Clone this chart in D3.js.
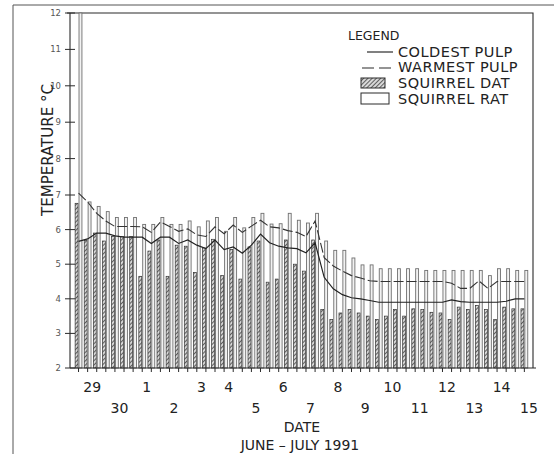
<!DOCTYPE html>
<html>
<head>
<meta charset="utf-8">
<script src="https://cdn.jsdelivr.net/npm/d3@7"></script>
<style>
  body { margin: 0; background: #fff; }
  text { font-family: "DejaVu Sans", "Liberation Sans", sans-serif; fill: #222; }
</style>
</head>
<body>
<svg id="chart" width="554" height="454"></svg>
<script>
// Readings were taken every 8 hours, starting at midnight on 29 June 1991.
const firstReading = new Date(1991, 5, 29, 0, 0);
const readingStepHours = 8;

// Squirrel Dormant Air Temperature (hatched bars), °C
const squirrelDAT = [
  6.76, 5.69, 5.90, 5.67, 5.80, 5.80, 5.80, 4.65, 5.38, 5.70,
  4.65, 5.55, 5.52, 4.76, 5.47, 5.72, 4.67, 5.43, 4.57, 5.50,
  5.67, 4.48, 4.57, 5.70, 5.00, 4.80, 5.70, 3.69, 3.40, 3.59,
  3.69, 3.59, 3.50, 3.40, 3.50, 3.69, 3.50, 3.71, 3.69, 3.61,
  3.59, 3.40, 3.76, 3.69, 3.81, 3.69, 3.40, 3.76, 3.71, 3.71
];

// Squirrel Return Air Temperature (open bars), °C
const squirrelRAT = [
  12.0, 6.80, 6.67, 6.52, 6.35, 6.35, 6.35, 6.15, 6.15, 6.35,
  6.15, 6.15, 6.25, 6.08, 6.25, 6.35, 5.95, 6.35, 6.05, 6.35,
  6.47, 6.16, 6.17, 6.47, 6.27, 6.19, 6.47, 5.67, 5.40, 5.40,
  5.18, 4.98, 4.98, 4.87, 4.87, 4.87, 4.87, 4.87, 4.82, 4.82,
  4.82, 4.82, 4.82, 4.82, 4.82, 4.67, 4.87, 4.87, 4.82, 4.82
];

// Coldest pulp temperature (solid line), °C
const coldestPulp = [
  5.66, 5.73, 5.90, 5.90, 5.82, 5.78, 5.78, 5.78, 5.60, 5.78,
  5.78, 5.60, 5.70, 5.55, 5.45, 5.70, 5.42, 5.50, 5.32, 5.55,
  5.87, 5.62, 5.52, 5.47, 5.45, 5.33, 5.62, 4.62, 4.29, 4.12,
  4.03, 4.00, 3.95, 3.90, 3.90, 3.90, 3.90, 3.90, 3.90, 3.90,
  3.90, 3.97, 3.92, 3.90, 3.90, 3.90, 3.90, 3.93, 4.00, 4.00
];

// Warmest pulp temperature (dashed line), °C
const warmestPulp = [
  7.05, 6.80, 6.47, 6.25, 6.09, 6.09, 6.09, 6.08, 5.92, 6.22,
  6.09, 5.95, 6.02, 5.85, 5.80, 6.08, 5.88, 6.13, 5.92, 6.10,
  6.27, 6.08, 6.05, 5.97, 5.92, 5.80, 6.25, 5.19, 4.95, 4.80,
  4.67, 4.60, 4.52, 4.50, 4.50, 4.50, 4.50, 4.50, 4.50, 4.50,
  4.50, 4.45, 4.30, 4.30, 4.52, 4.30, 4.50, 4.50, 4.50, 4.50
];

// Date tick labels (June - July 1991) and the ones set on the upper row
const dateTicks = [
  "1991-06-29", "1991-06-30", "1991-07-01", "1991-07-02", "1991-07-03",
  "1991-07-04", "1991-07-05", "1991-07-06", "1991-07-07", "1991-07-08",
  "1991-07-09", "1991-07-10", "1991-07-11", "1991-07-12", "1991-07-13",
  "1991-07-14", "1991-07-15"
];
const upperRowDays = [29, 1, 3, 4, 6, 8, 10, 12, 14];

const yTicks = [2, 3, 4, 5, 6, 7, 8, 9, 10, 11, 12];

const legendItems = ["COLDEST PULP", "WARMEST PULP", "SQUIRREL DAT", "SQUIRREL RAT"];

// ---------------------------------------------------------------------------
const svg = d3.select("#chart");
const ink = "#2a2a2a";

const readingTimes = squirrelDAT.map((_, i) => d3.timeHour.offset(firstReading, i * readingStepHours));
const rows = readingTimes.map((t, i) => ({
  t, dat: squirrelDAT[i], rat: squirrelRAT[i], cold: coldestPulp[i], warm: warmestPulp[i]
}));

const plot = { left: 70, right: 533, top: 13, bottom: 368 };

const x = d3.scaleTime()
  .domain([d3.timeMinute.offset(readingTimes[0], -450),
           d3.timeMinute.offset(readingTimes[readingTimes.length - 1], 456)])
  .range([plot.left, plot.right]);

// The temperature axis is drawn with a slightly wider spacing above 7 °C
const y = d3.scaleLinear()
  .domain([2, 7, 12])
  .range([plot.bottom, 195, plot.top]);

// Each reading holds a narrow DAT bar and a narrow RAT bar side by side
const pair = d3.scaleBand().domain(["DAT", "RAT"]).range([-3.4, 3.4]).paddingInner(0.25);

// Diagonal hatching for the DAT bars and legend swatch
const defs = svg.append("defs");
defs.append("pattern")
  .attr("id", "hatch")
  .attr("patternUnits", "userSpaceOnUse")
  .attr("width", 3).attr("height", 3)
  .attr("patternTransform", "rotate(45)")
  .call(p => {
    p.append("rect").attr("width", 3).attr("height", 3).attr("fill", "#d8d8d8");
    p.append("line").attr("x1", 0).attr("y1", 0).attr("x2", 0).attr("y2", 3)
      .attr("stroke", "#2a2a2a").attr("stroke-width", 1.4);
  });

// Page frame (top and left rules)
svg.append("path")
  .attr("d", "M13,454 V5 H554")
  .attr("fill", "none").attr("stroke", "#555").attr("stroke-width", 1);

// Plot box top and right edges
svg.append("path")
  .attr("d", `M${plot.left - 3},${plot.top} H${plot.right} V${plot.bottom}`)
  .attr("fill", "none").attr("stroke", ink).attr("stroke-width", 1.1);

// Bars
const barG = svg.append("g");
barG.selectAll("rect.dat").data(rows).join("rect")
  .attr("class", "dat")
  .attr("x", d => x(d.t) + pair("DAT"))
  .attr("width", pair.bandwidth())
  .attr("y", d => y(d.dat))
  .attr("height", d => y(2) - y(d.dat))
  .attr("fill", "url(#hatch)")
  .attr("stroke", "#333").attr("stroke-width", 0.7);

barG.selectAll("rect.rat").data(rows).join("rect")
  .attr("class", "rat")
  .attr("x", d => x(d.t) + pair("RAT"))
  .attr("width", pair.bandwidth())
  .attr("y", d => y(Math.min(d.rat, 12)))
  .attr("height", d => y(2) - y(Math.min(d.rat, 12)))
  .attr("fill", "#f2f2f2")
  .attr("stroke", "#707070").attr("stroke-width", 0.9);

// Pulp temperature lines
const lineCold = d3.line().x(d => x(d.t)).y(d => y(d.cold));
const lineWarm = d3.line().x(d => x(d.t)).y(d => y(d.warm));

svg.append("path").datum(rows)
  .attr("d", lineWarm)
  .attr("fill", "none").attr("stroke", "#333").attr("stroke-width", 1.1)
  .attr("stroke-dasharray", "10,3");

svg.append("path").datum(rows)
  .attr("d", lineCold)
  .attr("fill", "none").attr("stroke", "#222").attr("stroke-width", 1.2);

// Y axis: line with ticks crossing it
const yAxisG = svg.append("g");
yAxisG.append("line")
  .attr("x1", plot.left).attr("x2", plot.left)
  .attr("y1", plot.top).attr("y2", plot.bottom)
  .attr("stroke", ink).attr("stroke-width", 1.1);
yAxisG.selectAll("line.tick").data(yTicks).join("line")
  .attr("class", "tick")
  .attr("x1", plot.left - 5).attr("x2", plot.left + 5)
  .attr("y1", d => y(d)).attr("y2", d => y(d))
  .attr("stroke", ink).attr("stroke-width", 1);
yAxisG.selectAll("text").data(yTicks).join("text")
  .attr("x", plot.left - 9)
  .attr("y", d => y(d) + 3)
  .attr("text-anchor", "end")
  .attr("font-size", 8.5)
  .style("fill", "#555")
  .text(d => d);

svg.append("text")
  .attr("transform", "translate(53,150) rotate(-90)")
  .attr("text-anchor", "middle")
  .attr("font-size", 15)
  .text("TEMPERATURE °C");

// X axis: baseline with a tick under every reading
const xAxisG = svg.append("g");
xAxisG.append("line")
  .attr("x1", plot.left).attr("x2", plot.right + 3)
  .attr("y1", plot.bottom).attr("y2", plot.bottom)
  .attr("stroke", ink).attr("stroke-width", 1.2);
xAxisG.selectAll("line.tick").data(readingTimes).join("line")
  .attr("class", "tick")
  .attr("x1", d => x(d)).attr("x2", d => x(d))
  .attr("y1", plot.bottom).attr("y2", plot.bottom + 4)
  .attr("stroke", ink).attr("stroke-width", 1);

const parseDay = d3.timeParse("%Y-%m-%d");
xAxisG.selectAll("text").data(dateTicks.map(parseDay)).join("text")
  .attr("x", d => x(d3.timeHour.offset(d, 12)))
  .attr("y", d => upperRowDays.includes(d.getDate()) ? 391.5 : 413)
  .attr("text-anchor", "middle")
  .attr("font-size", 14)
  .text(d => d.getDate());

svg.append("text")
  .attr("x", 302).attr("y", 432)
  .attr("text-anchor", "middle").attr("font-size", 14)
  .text("DATE");
svg.append("text")
  .attr("x", 300).attr("y", 450)
  .attr("text-anchor", "middle").attr("font-size", 14)
  .text("JUNE – JULY 1991");

// Legend
const lg = svg.append("g");
lg.append("text").attr("x", 348).attr("y", 40).attr("font-size", 12.5).text("LEGEND");
const rowY = [57, 72, 88, 104];
lg.selectAll("text.item").data(legendItems).join("text")
  .attr("class", "item")
  .attr("x", 398).attr("y", (d, i) => rowY[i])
  .attr("font-size", 14.5)
  .attr("letter-spacing", 0.5)
  .text(d => d);
lg.append("line").attr("x1", 367).attr("x2", 393).attr("y1", rowY[0] - 5).attr("y2", rowY[0] - 5)
  .attr("stroke", ink).attr("stroke-width", 1.2);
lg.append("line").attr("x1", 362).attr("x2", 393).attr("y1", rowY[1] - 4).attr("y2", rowY[1] - 4)
  .attr("stroke", ink).attr("stroke-width", 1.2).attr("stroke-dasharray", "12,5");
lg.append("rect").attr("x", 361).attr("y", rowY[2] - 10).attr("width", 24).attr("height", 10)
  .attr("fill", "url(#hatch)").attr("stroke", ink).attr("stroke-width", 1);
lg.append("rect").attr("x", 361).attr("y", rowY[3] - 11).attr("width", 28).attr("height", 11)
  .attr("fill", "#fff").attr("stroke", ink).attr("stroke-width", 1);
</script>
</body>
</html>
